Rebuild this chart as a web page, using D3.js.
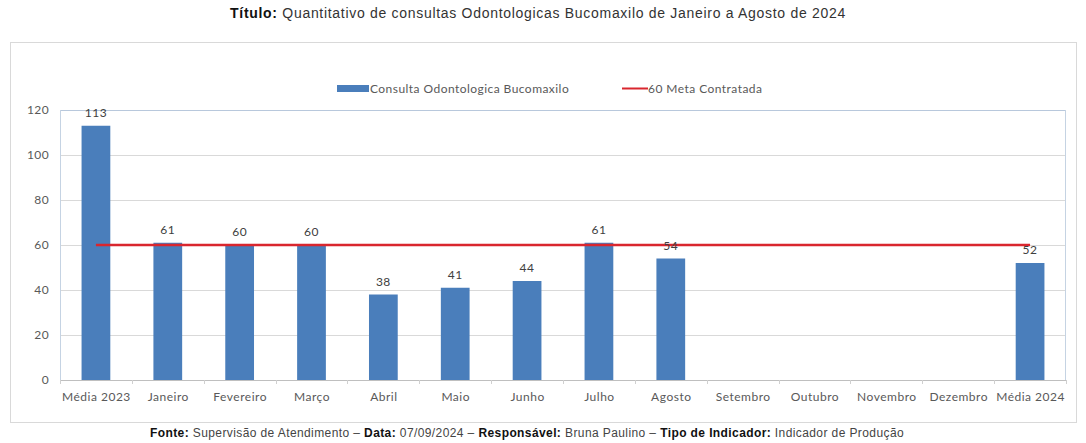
<!DOCTYPE html>
<html>
<head>
<meta charset="utf-8">
<script src="https://cdn.jsdelivr.net/npm/d3@7"></script>
<style>
  body { margin: 0; background: #fff; }
  svg { display: block; }
</style>
</head>
<body>
<div id="chart"></div>
<script>
// data
const categories = ["Média 2023","Janeiro","Fevereiro","Março","Abril","Maio","Junho","Julho","Agosto","Setembro","Outubro","Novembro","Dezembro","Média 2024"];
const consultas = [113, 61, 60, 60, 38, 41, 44, 61, 54, null, null, null, null, 52];
const meta = 60;
const yTicks = [0, 20, 40, 60, 80, 100, 120];

const barColor = "#4a7ebb";
const metaColor = "#d9262e";
const textColor = "#595959";
const chartFont = "Lato, 'Open Sans', sans-serif";

const W = 1086, H = 443;
const margin = {top: 110, right: 20, bottom: 63, left: 60},
      width = 1066 - margin.left,
      height = 380 - margin.top;

const svg = d3.select("#chart").append("svg")
  .attr("width", W).attr("height", H);

// title
svg.append("text")
  .attr("x", 538).attr("y", 18)
  .attr("text-anchor", "middle")
  .style("font-family", "'Liberation Sans', Arial, sans-serif")
  .style("font-size", "14px")
  .style("letter-spacing", "0.7px")
  .style("fill", "#333")
  .call(t => {
    t.append("tspan").attr("font-weight", "bold").style("fill", "#111").text("Título:");
    t.append("tspan").text(" Quantitativo de consultas Odontologicas Bucomaxilo de Janeiro a Agosto de 2024");
  });

// outer chart box
svg.append("rect")
  .attr("x", 10.5).attr("y", 42.5)
  .attr("width", 1066).attr("height", 380)
  .attr("fill", "none")
  .attr("stroke", "#d9d9d9");

const g = svg.append("g").attr("transform", `translate(${margin.left},${margin.top})`);

const x = d3.scaleBand().domain(categories).range([0, width]).paddingInner(0.6).paddingOuter(0.3);
const xc = d3.scalePoint().domain(categories).range([0, width]).padding(0.5);
const y = d3.scaleLinear().domain([0, 120]).range([height, 0]);

// gridlines
g.append("g")
  .selectAll("line")
  .data(yTicks)
  .join("line")
  .attr("x1", 0).attr("x2", width)
  .attr("y1", d => Math.round(y(d)) + 0.5).attr("y2", d => Math.round(y(d)) + 0.5)
  .attr("stroke", d => d === 120 ? "#b8c8dc" : "#d9d9d9");

// plot side borders
g.append("line").attr("x1", 0.5).attr("x2", 0.5).attr("y1", 0).attr("y2", height).attr("stroke", "#c5d3e3");
g.append("line").attr("x1", width - 0.5).attr("x2", width - 0.5).attr("y1", 0).attr("y2", height).attr("stroke", "#c5d3e3");

// y axis
const yAxis = g.append("g")
  .call(d3.axisLeft(y).tickValues(yTicks).tickSize(0).tickPadding(11));
yAxis.select(".domain").remove();
yAxis.selectAll("text")
  .style("font-family", chartFont).style("font-size", "12px").style("letter-spacing", "0.4px").style("fill", textColor);

// x axis
const xAxis = g.append("g")
  .attr("transform", `translate(0,${height})`)
  .call(d3.axisBottom(xc).tickSize(0).tickPadding(12));
xAxis.select(".domain").attr("stroke", "#bfbfbf");
xAxis.selectAll("text")
  .style("font-family", chartFont).style("font-size", "12px").style("letter-spacing", "0.5px").style("fill", textColor);

// small tick marks between categories
const step = width / categories.length;
g.append("g")
  .selectAll("line")
  .data(d3.range(categories.length + 1))
  .join("line")
  .attr("x1", d => Math.round(d * step) + 0.5).attr("x2", d => Math.round(d * step) + 0.5)
  .attr("y1", height).attr("y2", height + 4)
  .attr("stroke", "#d0d0d0");

// bars
const barData = categories.map((c, i) => ({cat: c, v: consultas[i]})).filter(d => d.v !== null);
g.append("g")
  .selectAll("rect")
  .data(barData)
  .join("rect")
  .attr("x", d => x(d.cat))
  .attr("y", d => y(d.v))
  .attr("width", x.bandwidth())
  .attr("height", d => height - y(d.v))
  .attr("fill", barColor);

// meta line
g.append("line")
  .attr("x1", xc(categories[0])).attr("x2", xc(categories[categories.length - 1]))
  .attr("y1", y(meta)).attr("y2", y(meta))
  .attr("stroke", metaColor)
  .attr("stroke-width", 2.5);

// data labels
g.append("g")
  .selectAll("text")
  .data(barData)
  .join("text")
  .attr("x", d => xc(d.cat))
  .attr("y", d => y(d.v) - 9)
  .attr("text-anchor", "middle")
  .style("font-family", chartFont).style("font-size", "12px").style("letter-spacing", "0.5px").style("fill", "#404040")
  .text(d => d.v);

// legend
const lg = svg.append("g").attr("transform", "translate(0,88)");
lg.append("rect").attr("x", 337).attr("y", -3).attr("width", 32).attr("height", 7).attr("fill", barColor);
lg.append("text").attr("x", 370).attr("y", 4.5)
  .style("font-family", chartFont).style("font-size", "12px").style("letter-spacing", "0.45px").style("fill", textColor)
  .text("Consulta Odontologica Bucomaxilo");
lg.append("line").attr("x1", 622).attr("x2", 648).attr("y1", 0.5).attr("y2", 0.5)
  .attr("stroke", metaColor).attr("stroke-width", 2);
lg.append("text").attr("x", 648).attr("y", 4.5)
  .style("font-family", chartFont).style("font-size", "12px").style("letter-spacing", "0.45px").style("fill", textColor)
  .text("60 Meta Contratada");

// footer
svg.append("text")
  .attr("x", 527).attr("y", 437)
  .attr("text-anchor", "middle")
  .style("font-family", "'Liberation Sans', Arial, sans-serif")
  .style("font-size", "12px")
  .style("letter-spacing", "0.4px")
  .style("fill", "#444")
  .call(t => {
    const parts = [["Fonte:", true], [" Supervisão de Atendimento – ", false], ["Data:", true], [" 07/09/2024 – ", false],
      ["Responsável:", true], [" Bruna Paulino – ", false], ["Tipo de Indicador:", true], [" Indicador de Produção", false]];
    parts.forEach(p => t.append("tspan").attr("font-weight", p[1] ? "bold" : null).style("fill", p[1] ? "#111" : null).text(p[0]));
  });
</script>
</body>
</html>
